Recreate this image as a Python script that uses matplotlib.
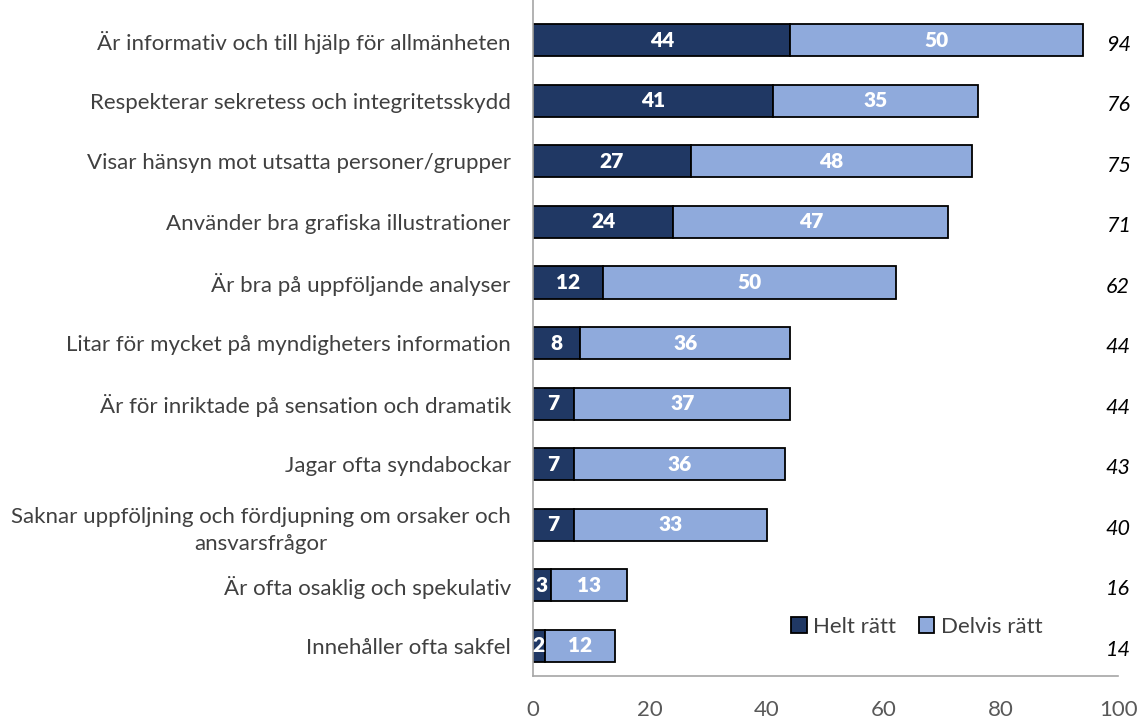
import matplotlib
matplotlib.use("Agg")
import matplotlib.pyplot as plt

plt.rcParams['font.family'] = ['Lato', 'DejaVu Sans']

categories = [
    "Är informativ och till hjälp för allmänheten",
    "Respekterar sekretess och integritetsskydd",
    "Visar hänsyn mot utsatta personer/grupper",
    "Använder bra grafiska illustrationer",
    "Är bra på uppföljande analyser",
    "Litar för mycket på myndigheters information",
    "Är för inriktade på sensation och dramatik",
    "Jagar ofta syndabockar",
    "Saknar uppföljning och fördjupning om orsaker och\nansvarsfrågor",
    "Är ofta osaklig och spekulativ",
    "Innehåller ofta sakfel",
]
helt = [44, 41, 27, 24, 12, 8, 7, 7, 7, 3, 2]
delvis = [50, 35, 48, 47, 50, 36, 37, 36, 33, 13, 12]
totals = [94, 76, 75, 71, 62, 44, 44, 43, 40, 16, 14]
series_names = ["Helt rätt", "Delvis rätt"]
xticks = [0, 20, 40, 60, 80, 100]

dark = "#203864"
light = "#8FAADC"

fig = plt.figure(figsize=(11.39, 7.18), dpi=100)
ax = fig.add_axes([0.468, 0.0585, 0.5136, 0.9275])

n = len(categories)
ypos = list(range(n - 1, -1, -1))
h = 0.53
ax.barh(ypos, helt, height=h, color=dark, edgecolor="black", linewidth=1.3, label=series_names[0])
ax.barh(ypos, delvis, left=helt, height=h, color=light, edgecolor="black", linewidth=1.3, label=series_names[1])

for y, a, b in zip(ypos, helt, delvis):
    ax.text(a / 2, y, str(a), ha="center", va="center", color="white", fontsize=15, fontweight="heavy")
    ax.text(a + b / 2, y, str(b), ha="center", va="center", color="white", fontsize=15, fontweight="heavy")

for y, t in zip(ypos, totals):
    ax.text(100, y - 0.07, str(t), ha="center", va="center", color="black", fontsize=15.5, style="italic")

ax.set_xlim(0, 100)
ax.set_ylim(-0.5, n - 0.5)
ax.set_yticks(ypos)
ax.set_yticklabels(categories, fontsize=16, color="#404040")
ax.tick_params(axis="y", length=0, pad=16)
for t in ax.get_yticklabels():
    t.set_multialignment("center")
    t.set_linespacing(1.45)
ax.set_xticks(xticks)
ax.set_xticklabels([str(v) for v in xticks], fontsize=16, color="#595959")
ax.tick_params(axis="x", length=0, pad=17)

for s in ["top", "right"]:
    ax.spines[s].set_visible(False)
ax.spines["left"].set_color("#A6A6A6")
ax.spines["bottom"].set_color("#A6A6A6")
ax.spines["left"].set_linewidth(1.2)
ax.spines["bottom"].set_linewidth(1.2)
ax.spines["left"].set_bounds(-0.5, n - 0.5 + 0.2)

ax.legend(loc="center", bbox_to_anchor=(0.656, 0.074), ncol=2, frameon=False,
          fontsize=16, handlelength=0.7, handleheight=0.7, handletextpad=0.3,
          columnspacing=1.0, labelcolor="#404040")

fig.savefig("out.png", dpi=100)
